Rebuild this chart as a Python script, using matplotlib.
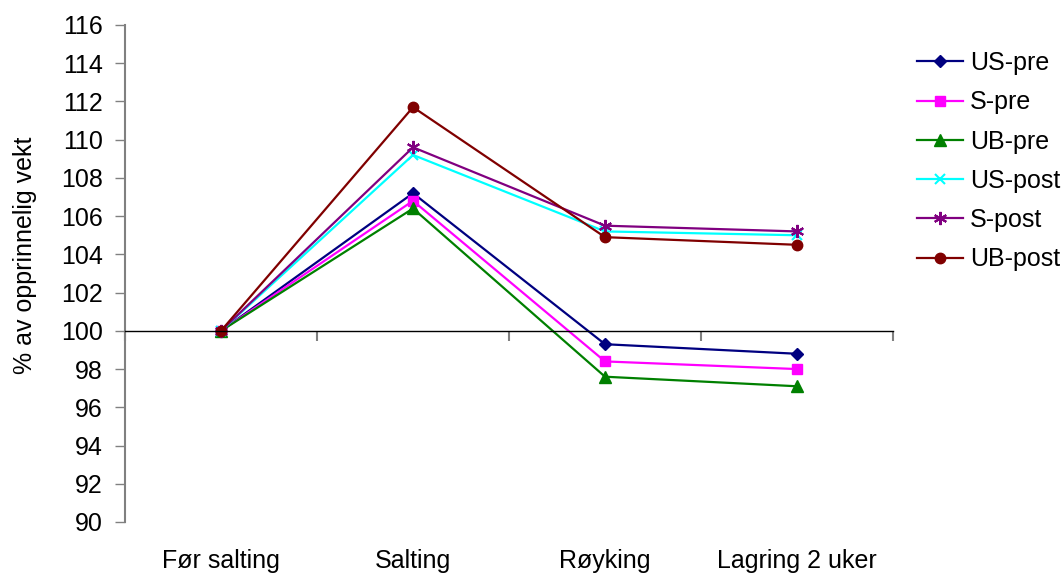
import matplotlib
matplotlib.use("Agg")
import matplotlib.pyplot as plt
import matplotlib.transforms as mtransforms
import numpy as np

plt.rcParams['font.family'] = ['Liberation Sans', 'DejaVu Sans']

categories = ["Før salting", "Salting", "Røyking", "Lagring 2 uker"]
us_pre = [100.0, 107.2, 99.3, 98.8]
s_pre = [100.0, 106.8, 98.4, 98.0]
ub_pre = [100.0, 106.4, 97.6, 97.1]
us_post = [100.0, 109.2, 105.2, 105.0]
s_post = [100.0, 109.6, 105.5, 105.2]
ub_post = [100.0, 111.7, 104.9, 104.5]

series = [
    ("US-pre", us_pre, "#000080", "D", 6.5),
    ("S-pre", s_pre, "#FF00FF", "s", 7),
    ("UB-pre", ub_pre, "#008000", "^", 8),
    ("US-post", us_post, "#00FFFF", "x", 7.5),
    ("S-post", s_post, "#800080", (6, 2, 0), 9.5),
    ("UB-post", ub_post, "#800000", "o", 7.5),
]

FS = 18

fig = plt.figure(figsize=(10.64, 5.74), dpi=100)
ax = fig.add_axes([0.1175, 0.0906, 0.7218, 0.8659])

x = np.arange(len(categories))
for name, vals, col, mk, ms in series:
    ax.plot(x, vals, color=col, marker=mk, markersize=ms, linewidth=1.6,
            markeredgewidth=1.5 if mk in ("x", (6, 2, 0)) else 1,
            markeredgecolor=col, label=name)

ax.set_xlim(-0.5, len(categories) - 0.5)
ax.set_ylim(90, 116)
ax.set_yticks(np.arange(90, 117, 2))
ax.tick_params(axis='y', labelsize=FS, direction='out', length=7, width=1,
               color='#808080', pad=9)

# x axis crosses at 100, boundary ticks pointing down
ax.spines['bottom'].set_position(('data', 100))
ax.spines['bottom'].set_linewidth(1.0)
ax.spines['top'].set_visible(False)
ax.spines['right'].set_visible(False)
ax.spines['left'].set_color('#808080')
ax.spines['left'].set_linewidth(1.5)
ax.set_xticks(np.arange(-0.5, len(categories), 1.0))
ax.set_xticklabels([])
ax.tick_params(axis='x', direction='out', length=7, width=1.5, color='#808080')

trans = mtransforms.blended_transform_factory(ax.transData, ax.transAxes)
for i, c in enumerate(categories):
    ax.text(i, -0.078, c, transform=trans, ha='center', va='center', fontsize=FS)

ax.set_ylabel("% av opprinnelig vekt", fontsize=FS)
ax.yaxis.set_label_coords(-0.114, 0.537)

fig.legend(loc='upper left', bbox_to_anchor=(0.862, 0.911), frameon=False,
           fontsize=FS, handlelength=1.84, handletextpad=0.28,
           labelspacing=0.61, borderpad=0, borderaxespad=0)

fig.savefig("out.png", dpi=100)
